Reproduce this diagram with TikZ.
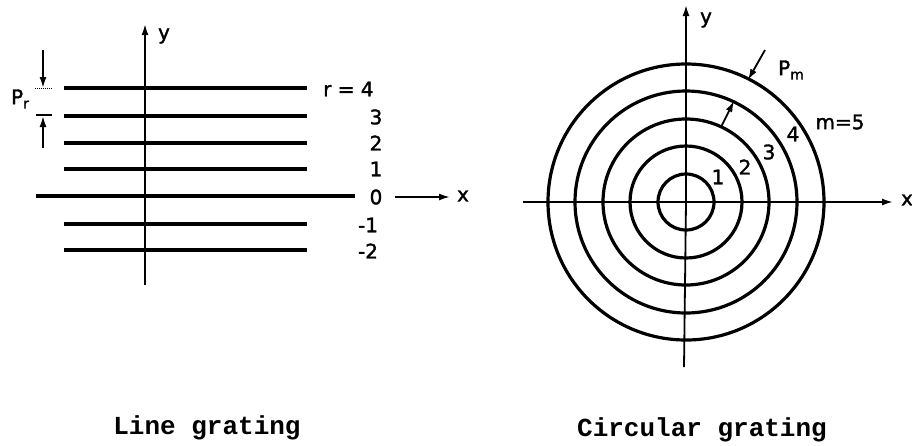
\documentclass[tikz,border=0pt]{standalone}
\usepackage{fontspec}
\setmainfont{DejaVu Sans}[FakeBold=1.6]
\newfontfamily\capfont{Liberation Mono}
\usetikzlibrary{arrows.meta}
\newcommand{\subtxt}[1]{\raisebox{-0.4ex}{\fontsize{14}{14}\selectfont #1}}
\begin{document}
\begin{tikzpicture}[x=1pt,y=-1pt,
  grat/.style={line width=3.2pt},
  axis/.style={line width=1.8pt},
  lab/.style={font=\fontsize{20}{20}\selectfont, inner sep=0pt},
  captxt/.style={font=\capfont\bfseries\fontsize{26}{26}\selectfont, inner sep=0pt},
  arr/.style={-{Latex[length=11pt,width=7pt]}}]
\useasboundingbox (0,0) rectangle (912,445);
% ---------- Line grating ----------
\draw[axis,arr] (145,285) -- (145,24);
\node[lab] (ly) at (164,36) {y};
\foreach \yy in {88,116,143,169,224,250} \draw[grat] (64,\yy) -- (307,\yy);
\draw[grat] (36,196) -- (355,196);
\node[lab,anchor=west] (r4) at (323,89) {r = 4};
\node[lab] (r3) at (376,117) {3};
\node[lab] (r2) at (376,143) {2};
\node[lab] (r1) at (376,169) {1};
\node[lab] (r0) at (376,197) {0};
\node[lab] (rm1) at (368,225) {-1};
\node[lab] (rm2) at (368,251) {-2};
\coordinate (xa) at (395,197);
\coordinate (xb) at (450,197);
\draw[axis,arr] (xa) -- (xb);
\node[lab] (lx) at (463,196) {x};
% pitch p_r
\draw[axis,arr] (43,50) -- (43,88);
\draw[line width=1pt,densely dotted] (35,88) -- (52,88);
\draw[line width=1.5pt] (36,115) -- (52,115);
\draw[axis,arr] (43,148) -- (43,116);
\node[lab] (pr) at (20,99) {P\subtxt{r}};
\node[captxt] (c1) at (207,428) {Line grating};
% ---------- Circular grating ----------
\coordinate (O) at (686,202);
\draw[axis] (523,202) -- (O);
\draw[axis,arr] (O) -- (893,202);
\node[lab] (rx) at (907,200) {x};
\draw[axis] (684,367) -- (O);
\draw[axis,arr] (O) -- (686,5);
\node[lab] (ry) at (706,20) {y};
\foreach \rr in {28,56,83,111,138} \draw[grat] (O) circle[radius=\rr];
\node[lab] (m1) at (718,177) {1};
\node[lab] (m2) at (745,167) {2};
\node[lab] (m3) at (769,152) {3};
\node[lab] (m4) at (793,134) {4};
\node[lab] (m5) at (840,122) {m=5};
\node[lab] (pm) at (791,70) {P\subtxt{m}};
\draw[axis,arr] (765,50) -- (748,80);
\draw[axis,arr] (721,127) -- (734,101);
\node[captxt] (c2) at (702,430) {Circular grating};
\end{tikzpicture}
\end{document}
